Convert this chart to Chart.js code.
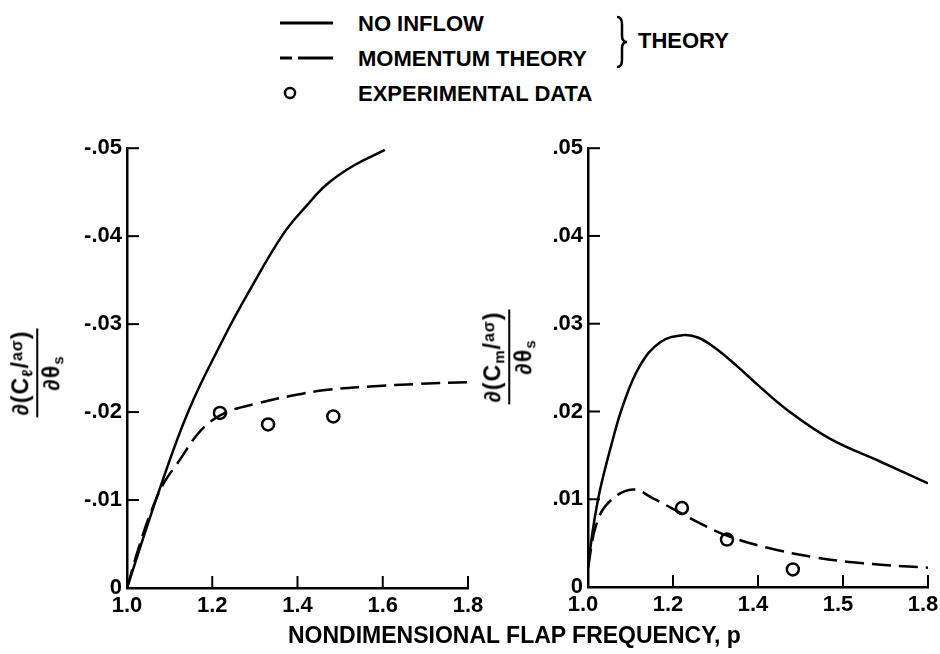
<!DOCTYPE html>
<html>
<head>
<meta charset="utf-8">
<script src="https://cdn.jsdelivr.net/npm/chart.js@4"></script>
<style>
  body { margin: 0; background: #fff; width: 940px; height: 654px; position: relative; overflow: hidden;
         font-family: "Liberation Sans", Arial, sans-serif; font-weight: bold; color: #000; }
  canvas { position: absolute; }
  .txt { position: absolute; white-space: nowrap; line-height: 1; }
  .frac { position: absolute; transform: translate(-50%, -50%) rotate(-90deg); text-align: center;
          font-size: 23px; line-height: 1.05; white-space: nowrap; }
  .frac .num { border-bottom: 2.5px solid #000; padding: 0 2px 1px; letter-spacing: 1px; }
  .frac .den { padding-top: 1px; letter-spacing: 1px; }
  .frac sub { font-size: 15px; vertical-align: -4px; }
  .frac .ao { font-size: 16px; vertical-align: 6px; }
</style>
</head>
<body>
<svg width="940" height="120" style="position:absolute;left:0;top:0">
  <line x1="280" y1="23" x2="333" y2="23" stroke="#000" stroke-width="3"/>
  <line x1="280" y1="58" x2="292" y2="58" stroke="#000" stroke-width="3"/>
  <line x1="298" y1="58" x2="333" y2="58" stroke="#000" stroke-width="3"/>
  <circle cx="290" cy="93" r="5" fill="#fff" stroke="#000" stroke-width="2.5"/>
  <path d="M617,17 Q622,17 622,24 L622,36 Q622,42 627,42 Q622,42 622,48 L622,60 Q622,67 617,67"
        fill="none" stroke="#000" stroke-width="2.5"/>
</svg>
<div class="txt" style="left:358px;top:13px;font-size:22px">NO INFLOW</div>
<div class="txt" style="left:358px;top:48px;font-size:22px">MOMENTUM THEORY</div>
<div class="txt" style="left:358px;top:83px;font-size:22px">EXPERIMENTAL DATA</div>
<div class="txt" style="left:638px;top:30px;font-size:22px">THEORY</div>

<canvas id="leftChart" width="500" height="524" style="left:0;top:130px"></canvas>
<canvas id="rightChart" width="470" height="524" style="left:470px;top:130px"></canvas>

<div class="frac" style="left:37px;top:373px">
  <div class="num">&#8706;(C<sub>&#8467;</sub>/<span class="ao">a&#963;</span>)</div>
  <div class="den">&#8706;&#952;<sub>s</sub></div>
</div>
<div class="frac" style="left:509px;top:357px">
  <div class="num">&#8706;(C<sub>m</sub>/<span class="ao">a&#963;</span>)</div>
  <div class="den">&#8706;&#952;<sub>s</sub></div>
</div>

<div class="txt" style="left:288px;top:624px;font-size:23px">NONDIMENSIONAL FLAP FREQUENCY, p</div>

<script>
// nondimensional flap frequency values
const pLiftNoInflow = [1.0, 1.07, 1.144, 1.23, 1.285, 1.366, 1.422, 1.469, 1.531, 1.605];
const liftNoInflow = [0, -0.0103, -0.0201, -0.0287, -0.0336, -0.0402, -0.0435, -0.0459, -0.0480, -0.0498];
const pLiftMomentum = [1.0, 1.027, 1.055, 1.085, 1.12, 1.175, 1.23, 1.307, 1.38, 1.465, 1.57, 1.687, 1.8];
const liftMomentum = [0, -0.0045, -0.0085, -0.0118, -0.0143, -0.0180, -0.0199, -0.0210, -0.0218, -0.0225, -0.0229, -0.0232, -0.0234];
const pLiftExp = [1.218, 1.331, 1.484];
const liftExp = [-0.0199, -0.0186, -0.0195];

const pMomNoInflow = [1.0, 1.012, 1.028, 1.055, 1.083, 1.122, 1.17, 1.224, 1.26, 1.30, 1.35, 1.40, 1.468, 1.569, 1.687, 1.8];
const momNoInflow = [0.0022, 0.0067, 0.0110, 0.0162, 0.0208, 0.0252, 0.0279, 0.0287, 0.0284, 0.0272, 0.0252, 0.0230, 0.0202, 0.0169, 0.0143, 0.0118];
const pMomMomentum = [1.0, 1.02, 1.052, 1.106, 1.153, 1.2, 1.266, 1.33, 1.42, 1.532, 1.647, 1.8];
const momMomentum = [0.0022, 0.0072, 0.0098, 0.0111, 0.0101, 0.0089, 0.0072, 0.0058, 0.0045, 0.0034, 0.0027, 0.0022];
const pMomExp = [1.221, 1.327, 1.482];
const momExp = [0.0090, 0.0054, 0.0020];

// tick labels as printed
const xLabelsLeft = ['1.0', '1.2', '1.4', '1.6', '1.8'];
const xLabelsRight = ['1.0', '1.2', '1.4', '1.5', '1.8'];
const yLabelsLeft = ['0', '-.01', '-.02', '-.03', '-.04', '-.05'];
const yLabelsRight = ['0', '.01', '.02', '.03', '.04', '.05'];

const tickFont = { family: "'Liberation Sans', Arial, sans-serif", size: 22, weight: 'bold' };

function pts(xs, ys) {
    return xs.map((x, i) => ({ x: x, y: ys[i] }));
}

// short tick marks pointing into the plot
const inwardTicks = {
    id: 'inwardTicks',
    afterDatasetsDraw(chart) {
        const { ctx, chartArea, scales } = chart;
        ctx.save();
        ctx.strokeStyle = '#000';
        ctx.lineWidth = 2;
        scales.x.ticks.forEach(t => {
            let px = scales.x.getPixelForValue(t.value);
            ctx.beginPath();
            ctx.moveTo(px, chartArea.bottom);
            ctx.lineTo(px, chartArea.bottom - 12);
            ctx.stroke();
        });
        scales.y.ticks.forEach(t => {
            let py = scales.y.getPixelForValue(t.value);
            ctx.beginPath();
            ctx.moveTo(chartArea.left, py);
            ctx.lineTo(chartArea.left + 12, py);
            ctx.stroke();
        });
        ctx.restore();
    }
};

function makeChart(id, solid, dashed, exp, yMin, yMax, reverse, yLabels, xLabels, yWidth, padding, xShift) {
    return new Chart(document.getElementById(id), {
        type: 'line',
        data: {
            datasets: [
                { data: solid, borderColor: '#000', borderWidth: 2.5, pointRadius: 0, tension: 0.4, fill: false },
                { data: dashed, borderColor: '#000', borderWidth: 2.5, pointRadius: 0, tension: 0.4,
                  borderDash: [19, 8], fill: false },
                { data: exp, showLine: false, pointRadius: 6, pointBorderWidth: 2.5,
                  pointBorderColor: '#000', pointBackgroundColor: '#fff' }
            ]
        },
        options: {
            responsive: false,
            animation: false,
            devicePixelRatio: 1,
            layout: { padding: padding },
            plugins: { legend: { display: false }, tooltip: { enabled: false } },
            scales: {
                x: {
                    type: 'linear', min: 1.0, max: 1.8,
                    grid: { display: false, drawTicks: false },
                    border: { display: true, color: '#000', width: 2.5 },
                    ticks: {
                        stepSize: 0.2, padding: 5, color: '#000', font: tickFont,
                        maxRotation: 0, autoSkip: false, labelOffset: xShift,
                        callback: v => xLabels[Math.round((v - 1) / 0.2)]
                    },
                    // fixed height, and no extra room reserved for the end labels
                    afterFit: s => { s.height = 40; s.paddingLeft = 0; s.paddingRight = 0; }
                },
                y: {
                    type: 'linear', min: yMin, max: yMax, reverse: reverse,
                    grid: { display: false, drawTicks: false },
                    border: { display: true, color: '#000', width: 2.5 },
                    ticks: {
                        stepSize: 0.01, padding: 5, color: '#000', font: tickFont,
                        callback: v => yLabels[Math.round(Math.abs(v) * 100)]
                    },
                    afterFit: s => { s.width = yWidth; }
                }
            }
        },
        plugins: [inwardTicks]
    });
}

makeChart('leftChart', pts(pLiftNoInflow, liftNoInflow), pts(pLiftMomentum, liftMomentum), pts(pLiftExp, liftExp),
    -0.05, 0, true, yLabelsLeft, xLabelsLeft, 127, { top: 17, right: 32, bottom: 26, left: 0 }, 0);
makeChart('rightChart', pts(pMomNoInflow, momNoInflow), pts(pMomMomentum, momMomentum), pts(pMomExp, momExp),
    0, 0.05, false, yLabelsRight, xLabelsRight, 118, { top: 15, right: 12, bottom: 27, left: 0 }, -5);
</script>
</body>
</html>
